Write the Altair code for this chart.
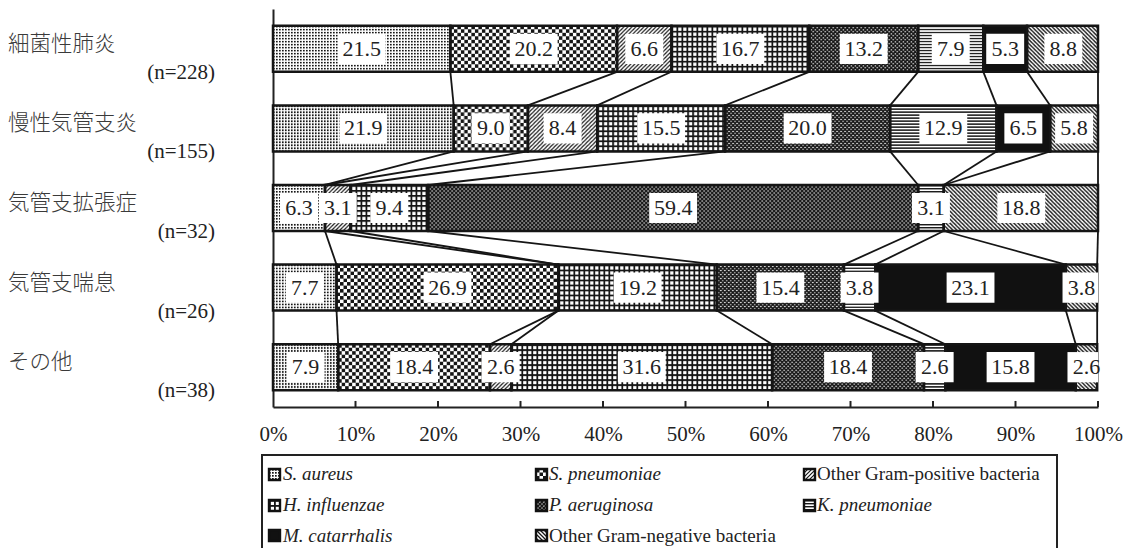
import base64
import altair as alt
import pandas as pd

# ---- data -----------------------------------------------------------------
categories = ["細菌性肺炎", "慢性気管支炎", "気管支拡張症", "気管支喘息", "その他"]
n_labels = ["(n=228)", "(n=155)", "(n=32)", "(n=26)", "(n=38)"]

series = [
    "S. aureus",
    "S. pneumoniae",
    "Other Gram-positive bacteria",
    "H. influenzae",
    "P. aeruginosa",
    "K. pneumoniae",
    "M. catarrhalis",
    "Other Gram-negative bacteria",
]

# percentage of isolates per disease group (rows follow `categories`)
s_aureus = [21.5, 21.9, 6.3, 7.7, 7.9]
s_pneumoniae = [20.2, 9.0, 0.0, 26.9, 18.4]
other_gram_pos = [6.6, 8.4, 3.1, 0.0, 2.6]
h_influenzae = [16.7, 15.5, 9.4, 19.2, 31.6]
p_aeruginosa = [13.2, 20.0, 59.4, 15.4, 18.4]
k_pneumoniae = [7.9, 12.9, 3.1, 3.8, 2.6]
m_catarrhalis = [5.3, 6.5, 0.0, 23.1, 15.8]
other_gram_neg = [8.8, 5.8, 18.8, 3.8, 2.6]

values = [s_aureus, s_pneumoniae, other_gram_pos, h_influenzae,
          p_aeruginosa, k_pneumoniae, m_catarrhalis, other_gram_neg]

tick_values = list(range(0, 101, 10))

# ---- monochrome fill patterns (SVG tiles used as image fills) -------------
INK = "#161616"


def pattern(w, h, body, bg="#ffffff"):
    svg = (
        '<svg xmlns="http://www.w3.org/2000/svg" width="100%" height="100%">'
        f'<defs><pattern id="p" width="{w}" height="{h}" patternUnits="userSpaceOnUse">'
        f'<rect width="{w}" height="{h}" fill="{bg}"/>{body}</pattern></defs>'
        '<rect width="100%" height="100%" fill="url(#p)"/></svg>'
    )
    return "data:image/svg+xml;base64," + base64.b64encode(svg.encode("utf-8")).decode("ascii")


fills = [
    # fine dots
    pattern(3, 3, f'<rect x="0" y="0" width="1.7" height="1.7" fill="{INK}"/>'),
    # checkerboard
    pattern(7, 7, f'<rect x="0" y="0" width="3.5" height="3.5" fill="{INK}"/>'
                  f'<rect x="3.5" y="3.5" width="3.5" height="3.5" fill="{INK}"/>'),
    # forward diagonal hatch
    pattern(4, 4, f'<path d="M0,4 L4,0 M-1,1 L1,-1 M3,5 L5,3" stroke="{INK}" stroke-width="1.2"/>'),
    # square grid
    pattern(5, 5, f'<rect x="0" y="0" width="5" height="1.8" fill="{INK}"/>'
                  f'<rect x="0" y="0" width="1.8" height="5" fill="{INK}"/>'),
    # dense diagonal lattice
    pattern(4, 4, f'<path d="M0,0 L4,4 M4,0 L0,4 M-1,-1 L1,1 M3,3 L5,5 M3,1 L5,-1 M-1,5 L1,3" '
                  f'stroke="{INK}" stroke-width="1.6"/>'),
    # horizontal lines
    pattern(4, 3, f'<rect x="0" y="0" width="4" height="1.4" fill="{INK}"/>'),
    # solid
    pattern(4, 4, "", bg="#111111"),
    # backward diagonal hatch
    pattern(4, 4, f'<path d="M0,0 L4,4 M-1,3 L1,5 M3,-1 L5,1" stroke="{INK}" stroke-width="1.3"/>'),
]

# ---- derived tables -------------------------------------------------------
HALF_BAR = 0.289   # half bar thickness in row units
HALF_BOX = 0.19    # half height of the white value boxes

seg_rows = []
cum_end = []
for r, cat in enumerate(categories):
    start = 0.0
    ends = []
    for s, name in enumerate(series):
        v = values[s][r]
        end = round(start + v, 2)
        ends.append(end)
        if v > 0:
            label = f"{v:.1f}"
            half_w = 2.9 if len(label) >= 4 else 2.3
            mid = (start + end) / 2
            seg_rows.append(dict(
                row=r, cat=cat, series=name, value=v, start=start, end=end,
                mid=mid, label=label, url=fills[s],
                y0=r - HALF_BAR, y1=r + HALF_BAR,
                bx0=mid - half_w, bx1=mid + half_w,
                by0=r - HALF_BOX, by1=r + HALF_BOX,
            ))
        start = end
    cum_end.append(ends)
seg = pd.DataFrame(seg_rows)

link_rows = []
for r in range(len(categories) - 1):
    for s in range(len(series)):
        link_rows.append(dict(xa=cum_end[r][s], xb=cum_end[r + 1][s],
                              ya=r + HALF_BAR, yb=r + 1 - HALF_BAR))
links = pd.DataFrame(link_rows)

ticks = pd.DataFrame({"t": tick_values[1:], "y0": 4.5, "y1": 4.5 - 0.076})
cats = pd.DataFrame({"row": list(range(len(categories))), "cat": categories, "n": n_labels})

# ---- scales / axes --------------------------------------------------------
SERIF = "'Liberation Serif', 'Times New Roman', serif"

xs = alt.Scale(domain=[0, 100], clamp=True, nice=False, zero=False)
ys = alt.Scale(domain=[-0.5, 4.5], reverse=True, nice=False, zero=False)
ax_x = alt.Axis(values=tick_values, labelExpr="datum.value + '%'",
                labelFont=SERIF, labelFontSize=21, labelColor="#222222",
                labelPadding=16, ticks=False, tickSize=0, grid=False,
                domainColor="#222222", domainWidth=2, title="",
                labelFlush=False, labelOverlap=False, labelBound=False)
ax_y = alt.Axis(labels=False, ticks=False, tickSize=0, grid=False,
                domainColor="#222222", domainWidth=2, title="")

segments = alt.Chart(seg).mark_image(aspect=False).encode(
    x=alt.X("start:Q", scale=xs, axis=ax_x),
    x2="end:Q",
    y=alt.Y("y0:Q", scale=ys, axis=ax_y),
    y2="y1:Q",
    url="url:N",
)

outlines = alt.Chart(seg).mark_rect(fillOpacity=0, stroke="#151515", strokeWidth=2.5).encode(
    x=alt.X("start:Q", scale=xs, axis=ax_x),
    x2="end:Q",
    y=alt.Y("y0:Q", scale=ys, axis=ax_y),
    y2="y1:Q",
)

boxes = alt.Chart(seg).mark_rect(color="#ffffff").encode(
    x=alt.X("bx0:Q", scale=xs, axis=ax_x),
    x2="bx1:Q",
    y=alt.Y("by0:Q", scale=ys, axis=ax_y),
    y2="by1:Q",
)

value_text = alt.Chart(seg).mark_text(
    font=SERIF, fontSize=22, color="#222222", align="center", baseline="middle"
).encode(
    x=alt.X("mid:Q", scale=xs, axis=ax_x),
    y=alt.Y("row:Q", scale=ys, axis=ax_y),
    text="label:N",
)

link_lines = alt.Chart(links).mark_rule(color="#151515", strokeWidth=1.8).encode(
    x=alt.X("xa:Q", scale=xs, axis=ax_x),
    x2="xb:Q",
    y=alt.Y("ya:Q", scale=ys, axis=ax_y),
    y2="yb:Q",
)

tick_marks = alt.Chart(ticks).mark_rule(color="#222222", strokeWidth=2).encode(
    x=alt.X("t:Q", scale=xs, axis=ax_x),
    y=alt.Y("y0:Q", scale=ys, axis=ax_y),
    y2="y1:Q",
)

cat_text = alt.Chart(cats).mark_text(
    font="'Noto Sans CJK JP'", fontSize=21.5, fontWeight=300, color="#3a3a3a",
    align="left", baseline="middle", dy=-4
).encode(
    x=alt.value(-265),
    y=alt.Y("row:Q", scale=ys, axis=ax_y),
    text="cat:N",
)

n_text = alt.Chart(cats).mark_text(
    font=SERIF, fontSize=21, color="#222222", align="right", baseline="middle", dy=24
).encode(
    x=alt.value(-58),
    y=alt.Y("row:Q", scale=ys, axis=ax_y),
    text="n:N",
)

# ---- legend ---------------------------------------------------------------
one = pd.DataFrame({"k": [0]})
legend_layers = [
    alt.Chart(one).mark_rect(fillOpacity=0, stroke="#222222", strokeWidth=2).encode(
        x=alt.value(-11), x2=alt.value(784), y=alt.value(446), y2=alt.value(600)
    )
]
icon_x = [-4, 263, 531]
text_x = [10, 276, 544]
icon_y = [460, 491, 521]
text_y = [465, 496, 527]
for i, name in enumerate(series):
    c, rr = i % 3, i // 3
    ix, iy = icon_x[c], icon_y[rr]
    legend_layers.append(
        alt.Chart(one).mark_image(aspect=False).encode(
            x=alt.value(ix), x2=alt.value(ix + 11),
            y=alt.value(iy), y2=alt.value(iy + 11),
            url=alt.value(fills[i]),
        )
    )
    legend_layers.append(
        alt.Chart(one).mark_rect(fillOpacity=0, stroke="#111111", strokeWidth=2.4).encode(
            x=alt.value(ix), x2=alt.value(ix + 11),
            y=alt.value(iy), y2=alt.value(iy + 11),
        )
    )
    legend_layers.append(
        alt.Chart(one).mark_text(
            font=SERIF, fontSize=19, color="#222222", align="left", baseline="middle",
            fontStyle="normal" if name.startswith("Other") else "italic",
        ).encode(
            x=alt.value(text_x[c]), y=alt.value(text_y[rr]), text=alt.value(name)
        )
    )

chart = alt.layer(
    segments, outlines, link_lines, tick_marks, boxes, value_text,
    cat_text, n_text, *legend_layers
).properties(
    width=825,
    height=398,
    autosize=alt.AutoSizeParams(type="none"),
    padding={"left": 273, "top": 9, "right": 27, "bottom": 141},
    background="#ffffff",
).configure_view(strokeOpacity=0)

chart.save("out.html", embed_options={"renderer": "svg", "actions": False})
